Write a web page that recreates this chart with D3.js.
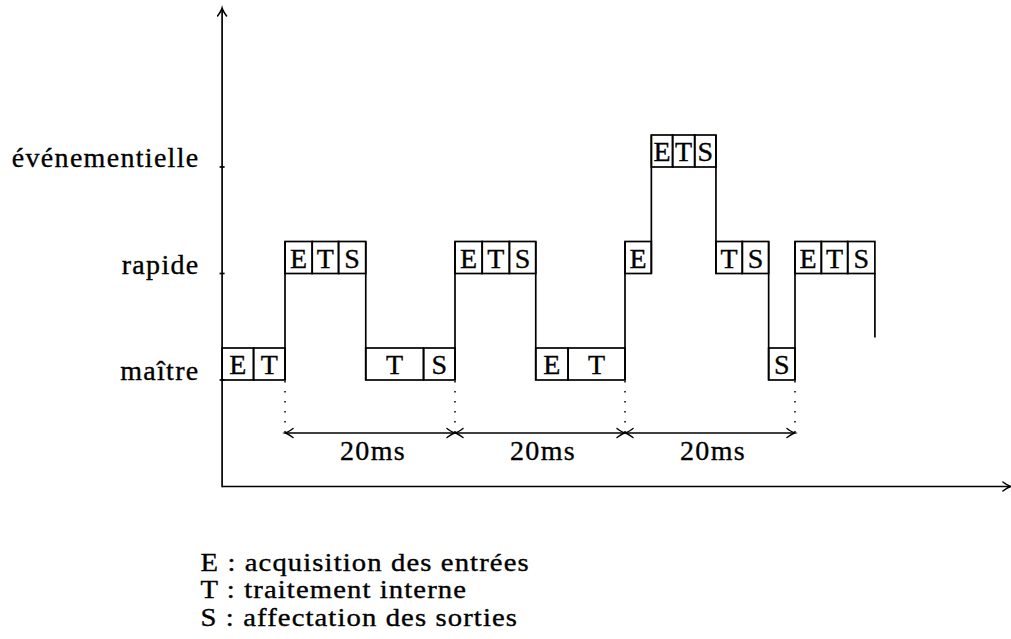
<!DOCTYPE html>
<html>
<head>
<meta charset="utf-8">
<script src="https://cdn.jsdelivr.net/npm/d3@7/dist/d3.min.js"></script>
<style>
  html, body { margin: 0; padding: 0; background: #fff; }
  svg { display: block; }
  text { font-family: "Liberation Serif", "DejaVu Serif", serif; fill: #000; stroke: #000; stroke-width: 0.35px; }
</style>
</head>
<body>
<svg id="chart" width="1011" height="639"></svg>
<script>
// ---- data ----
const levels = ["maître", "rapide", "événementielle"];
// [level, label, start ms, end ms]
const cells = [
  ["maître", "E", -7.4, -3.7],
  ["maître", "T", -3.7, 0],
  ["rapide", "E", 0, 3.2], ["rapide", "T", 3.2, 6.3], ["rapide", "S", 6.3, 9.5],
  ["maître", "T", 9.5, 16.3], ["maître", "S", 16.3, 20],
  ["rapide", "E", 20, 23.2], ["rapide", "T", 23.2, 26.4], ["rapide", "S", 26.4, 29.5],
  ["maître", "E", 29.5, 33.3], ["maître", "T", 33.3, 40],
  ["rapide", "E", 40, 43.1],
  ["événementielle", "E", 43.1, 45.6], ["événementielle", "T", 45.6, 48.2], ["événementielle", "S", 48.2, 50.7],
  ["rapide", "T", 50.7, 53.8], ["rapide", "S", 53.8, 56.9],
  ["maître", "S", 56.9, 60],
  ["rapide", "E", 60, 63.1], ["rapide", "T", 63.1, 66.2], ["rapide", "S", 66.2, 69.4]
];
// unfinished drop at the end: [time, from level index, to level index]
const tail = [69.4, 1, 0.4];
const periodMarks = [0, 20, 40, 60];
const periodLabel = "20ms";
const legendLines = [
  "E : acquisition des entrées",
  "T : traitement interne",
  "S : affectation des sorties"
];
const timeDomain = [-7.4, 85.4];

// ---- layout ----
const svg = d3.select("#chart");
const x = d3.scaleLinear().domain([0, 20]).range([285, 455]);
const y = d3.scaleLinear().domain([0, 2]).range([380, 167]);
const lvl = d => levels.indexOf(d);
const boxH = 32;
const fontSize = 28;
const spacing = "1.3px";
const lw = 1.7;

const ink = svg.append("g").attr("stroke", "#000").attr("stroke-width", lw).attr("fill", "none");

// arrowhead path (LaTeX "to" style), tip at origin pointing +x
const headPath = "M-8,-4.5 Q-3,-0.8 0,0 Q-3,0.8 -8,4.5";
function head(xp, yp, angle) {
  ink.append("path").attr("d", headPath)
    .attr("transform", `translate(${xp},${yp}) rotate(${angle})`)
    .attr("stroke-linecap", "round").attr("stroke-width", 1.5);
}

// axes
const x0 = x(timeDomain[0]);
const yBase = 486.5;
ink.append("line").attr("x1", x0).attr("x2", x0).attr("y1", yBase + 0.8).attr("y2", 8.5);
head(x0, 8, -90);
ink.append("line").attr("x1", x0).attr("x2", x(timeDomain[1]) - 0.5).attr("y1", yBase).attr("y2", yBase);
head(x(timeDomain[1]), yBase, 0);

// y ticks + labels
levels.forEach((name, i) => {
  ink.append("line").attr("x1", x0 - 2.5).attr("x2", x0 + 2.5).attr("y1", y(i)).attr("y2", y(i));
  svg.append("text").attr("x", 199.5).attr("y", y(i))
    .attr("text-anchor", "end").attr("font-size", fontSize)
    .style("letter-spacing", spacing)
    .text(name);
});

// connectors between consecutive cells of different level
for (let k = 1; k < cells.length; k++) {
  const a = lvl(cells[k - 1][0]), b = lvl(cells[k][0]);
  if (a !== b) {
    const lo = Math.min(a, b), hi = Math.max(a, b);
    ink.append("line").attr("x1", x(cells[k][2])).attr("x2", x(cells[k][2]))
      .attr("y1", y(lo)).attr("y2", y(hi) - boxH);
  }
}
// tail drop
ink.append("line").attr("x1", x(tail[0])).attr("x2", x(tail[0]))
  .attr("y1", y(tail[1])).attr("y2", y(tail[2]));

// cells
const cg = svg.append("g");
cg.selectAll("rect").data(cells).join("rect")
  .attr("x", d => x(d[2])).attr("width", d => x(d[3]) - x(d[2]))
  .attr("y", d => y(lvl(d[0])) - boxH).attr("height", boxH)
  .attr("fill", "none").attr("stroke", "#000").attr("stroke-width", lw);
cg.selectAll("text").data(cells).join("text")
  .attr("x", d => (x(d[2]) + x(d[3])) / 2)
  .attr("y", d => y(lvl(d[0])) - 6)
  .attr("text-anchor", "middle").attr("font-size", fontSize)
  .text(d => d[1]);

// dotted period lines, arrows, labels
const arrowY = 433;
periodMarks.forEach(t => {
  svg.append("line").attr("x1", x(t)).attr("x2", x(t)).attr("y1", y(0) + 1).attr("y2", arrowY)
    .attr("stroke", "#000").attr("stroke-width", 1.5).attr("stroke-dasharray", "1.5 8.5");
});
for (let k = 1; k < periodMarks.length; k++) {
  const a = x(periodMarks[k - 1]), b = x(periodMarks[k]);
  ink.append("line").attr("x1", a + 1).attr("x2", b - 1).attr("y1", arrowY).attr("y2", arrowY);
  head(b, arrowY, 0);
  head(a, arrowY, 180);
  svg.append("text").attr("x", (a + b) / 2 + 3).attr("y", 459.5)
    .attr("text-anchor", "middle").attr("font-size", fontSize)
    .style("letter-spacing", spacing)
    .text(periodLabel);
}

// legend: slightly smaller type, widened horizontally, lines that do not overlap
const legendG = svg.append("g").attr("transform", "translate(200.5,0) scale(1.17,1)");
legendLines.forEach((t, i) => {
  legendG.append("text").attr("x", 0).attr("y", 571 + i * 27.4)
    .attr("font-size", 24.5).style("letter-spacing", "0.95px").text(t);
});
</script>
</body>
</html>
